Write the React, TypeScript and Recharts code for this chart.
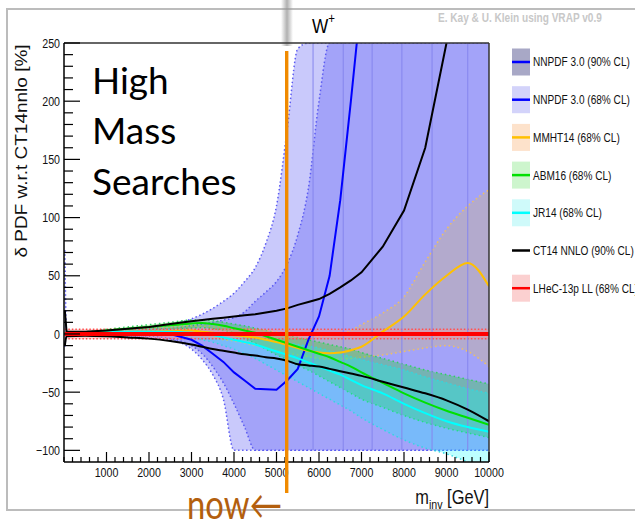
import React from "react";
import { Area, ComposedChart, Line, ReferenceLine, XAxis, YAxis } from "recharts";

// invariant mass grid [GeV]
const mass = [20, 60, 500, 1000, 1500, 2000, 2500, 3000, 3250, 3500, 3750, 4000, 4250, 4500, 4750, 5000, 5250, 5500, 5750, 6000, 6250, 6500, 6750, 7000, 7500, 8000, 8500, 9000, 9500, 10000];

// NNPDF 3.0
const nnpdf90Hi = [72, 2, 2, 3, 4, 5, 8, 13, 17, 22, 28, 35, 45, 57, 78, 110, 175, 245, 250, 250, 250, 250, 250, 250, 250, 250, 250, 250, 250, 250];
const nnpdf90Lo = [-11, -1, -1, -1, -2, -3, -5, -13, -22, -35, -56, -100, -100, -100, -100, -100, -100, -100, -100, -100, -100, -100, -100, -100, -100, -100, -100, -100, -100, -100];
const nnpdf68Hi = [1, 1, 1, 2, 3, 4, 5, 7, 8.5, 10, 12, 14, 19, 28, 36, 45, 60, 85, 125, 200, 250, 250, 250, 250, 250, 250, 250, 250, 250, 250];
const nnpdf68Lo = [-1, -1, -1, -1, -1.5, -2, -4, -10, -17, -28, -42, -60, -80, -100, -100, -100, -100, -100, -100, -100, -100, -100, -100, -100, -100, -100, -100, -100, -100, -100];
const nnpdfCentral = [0, 0, 0, 0, 0, 0.5, 0, -5, -10, -17, -24, -33, -40, -47, -47.5, -48, -40, -30, -5, 15, 50, 115, 200, 290, null, null, null, null, null, null];

// MMHT14
const mmhtCentral = [0, 0, 1, 1.5, 2, 2, 2.5, 3, 2, 1, 0, -1, -2, -3, -5, -7, -9.5, -12, -14.5, -16, -16.5, -16, -14, -11, 2, 15, 34, 50, 61, 41];
const mmhtHi = [1, 1, 2, 3, 4, 5, 6, 7, 7, 6.5, 6, 5, 4.5, 4, 3, 2, 1, 0, -1, -2, -1.5, 0, 3, 8, 18, 32, 62, 90, 110, 124];
const mmhtLo = [-1, -1, 0, 0, 0, -1, -1, -1, -2, -3, -5, -6, -8, -10, -12, -14, -16, -18, -19.5, -21, -21.5, -21.5, -21, -20, -18, -15, -12, -10, -15, -28];

// ABM16
const abmCentral = [0, 0, 1, 3, 4.5, 6, 7.5, 9, 9.5, 8.5, 7, 5, 3, 1, -2, -5, -8, -11, -14, -17, -20, -24, -28, -33, -42, -51, -59, -66, -72, -78];
const abmHi = [1, 1, 2, 4, 6, 8, 10, 12, 12, 11.5, 10, 8.5, 7, 5, 3, 1, -1, -3, -5, -7, -9, -11, -13, -16, -21, -26, -31, -35, -39, -43];
const abmLo = [-1, -1, 0, 1, 2, 3, 4, 5, 5.5, 4.5, 3, 1, -4, -8, -13, -18, -22, -27, -31, -36, -41, -46, -51, -56, -63, -70, -76, -81, -85, -89];

// JR14
const jrCentral = [0, 0, 1, 1.5, 2, 2, 2, 1, 0, -1, -3, -5, -7, -9, -12, -15, -18, -21, -24.5, -28, -31.5, -35, -39.5, -44, -51, -60, -68, -75, -80, -84];
const jrHi = [1, 1, 2, 3, 3.5, 4, 4, 3, 2.5, 1.5, 0.5, -1, -2, -3.5, -5, -6, -7.5, -9, -10.5, -12, -14.5, -17, -19.5, -22, -26.5, -31, -37, -42, -47, -51];
const jrLo = [-1, -1, 0, 0, 0, 0, -1, -3, -5, -7, -10, -13, -17, -21, -26, -31, -36, -41, -46, -51, -56, -61, -66, -72, -82, -91, -98, -103, -110, -118];

// CT14 NNLO 90% CL envelope
const ct14Hi = [20, 2, 2, 3, 4.5, 6, 8.5, 11, 12, 13, 14, 15, 16, 17, 18.5, 20, 22, 25, 27.5, 30, 34.5, 40, 46, 53, 75, 106, 160, 250, 390, 550];
const ct14Lo = [-10, -2, -1.5, -2, -3, -4, -6, -9, -11, -13, -14.5, -16, -17.5, -18.5, -20, -21, -23, -26, -27, -28, -30, -32, -34, -36, -41, -46, -51, -57, -65, -75];

// LHeC-13p LL
const lhecCentral = [0, 0, 0, 0, 0, 0, 0, 0, 0, 0, 0, 0, 0, 0, 0, 0, 0, 0, 0, 0, 0, 0, 0, 0, 0, 0, 0, 0, 0, 0];
const lhecHi = [4, 4, 4, 4, 4, 4, 4, 4, 4, 4, 4, 4, 4, 4, 4, 4, 4, 4, 4, 4, 4, 4, 4, 4, 4, 4, 4, 4, 4, 4];
const lhecLo = [-4, -4, -4, -4, -4, -4, -4, -4, -4, -4, -4, -4, -4, -4, -4, -4, -4, -4, -4, -4, -4, -4, -4, -4, -4, -4, -4, -4, -4, -4];

const binEdges = [5860, 6570, 7250, 7950, 8660, 9500];

const yMajorTicks = [-100, -50, 0, 50, 100, 150, 200, 250];
const xMajorTicks = [1000, 2000, 3000, 4000, 5000, 6000, 7000, 8000, 9000, 10000];

const legendItems = [
  { name: "NNPDF 3.0 (90% CL)", line: "#0000ff", box: "#a8a8c6" },
  { name: "NNPDF 3.0 (68% CL)", line: "#0000ff", box: "#d3d3fa" },
  { name: "MMHT14 (68% CL)", line: "#ffc000", box: "#fde2cb" },
  { name: "ABM16 (68% CL)", line: "#00e000", box: "#cdf5cd" },
  { name: "JR14 (68% CL)", line: "#00ffff", box: "#cffafa" },
  { name: "CT14 NNLO (90% CL)", line: "#000000", box: null },
  { name: "LHeC-13p LL (68% CL)", line: "#ff0000", box: "#fbd0d0" },
];

const rows = mass.map((m, i) => ({
  m,
  n90: [nnpdf90Lo[i], nnpdf90Hi[i]],
  n68: [nnpdf68Lo[i], nnpdf68Hi[i]],
  nnpdf: nnpdfCentral[i],
  mmhtBand: [mmhtLo[i], mmhtHi[i]],
  mmht: mmhtCentral[i],
  abmBand: [abmLo[i], abmHi[i]],
  abm: abmCentral[i],
  jrBand: [jrLo[i], jrHi[i]],
  jr: jrCentral[i],
  ctHi: ct14Hi[i],
  ctLo: ct14Lo[i],
  lhecBand: [lhecLo[i], lhecHi[i]],
  lhec: lhecCentral[i],
}));

const yTicks: number[] = [];
for (let v = -100; v <= 250; v += 10) yTicks.push(v);
const xTicks: number[] = [];
for (let v = 0; v <= 10000; v += 200) xTicks.push(v);

const ROOT_FONT = "'Liberation Sans', Arial, Helvetica, sans-serif";
const SQ = 0.82; // ROOT canvas is squeezed horizontally

const fmt = (v: number) => (v < 0 ? `\u2212${-v}` : `${v}`);

function YTick(props: any) {
  const { x, y, payload } = props;
  const major = yMajorTicks.includes(payload.value);
  return (
    <g>
      <line x1={x} y1={y} x2={x + (major ? 16 : 9)} y2={y} stroke="#000" strokeWidth={1.2} />
      {major && (
        <text transform={`translate(${x - 4},${y + 4.6}) scale(${SQ},1)`} textAnchor="end" fontSize={13} fontFamily={ROOT_FONT} fill="#111">
          {fmt(payload.value)}
        </text>
      )}
    </g>
  );
}

function XTick(props: any) {
  const { x, y, payload } = props;
  const major = xMajorTicks.includes(payload.value);
  return (
    <g>
      <line x1={x} y1={y} x2={x} y2={y - (major ? 10 : 5)} stroke="#000" strokeWidth={1.2} />
      {major && (
        <text transform={`translate(${x},${y + 14.5}) scale(${SQ},1)`} textAnchor="middle" fontSize={13} fontFamily={ROOT_FONT} fill="#111">
          {payload.value}
        </text>
      )}
    </g>
  );
}

const band = { isAnimationActive: false, type: "monotone" as const, activeDot: false as const };

export default function App() {
  return (
    <div style={{ position: "absolute", left: 0, top: 0, width: 635, height: 524, background: "#fff", overflow: "hidden" }}>
      <div style={{ position: "absolute", left: 6, top: 8, width: 640, height: 499, border: "2px solid #bcbcbc", borderRight: "none" }} />
      <div style={{ position: "absolute", left: 281, top: 0, width: 12, height: 46, background: "linear-gradient(to right, rgba(150,150,150,0), rgba(150,150,150,0.75) 50%, rgba(150,150,150,0))" }} />

      <div style={{ position: "absolute", left: 0, top: 0 }}>
        <ComposedChart width={635} height={524} data={rows} margin={{ top: 43, right: 146, bottom: 0, left: 0 }}>
          <XAxis dataKey="m" type="number" domain={[0, 10000]} ticks={xTicks} interval={0} tick={<XTick />} tickLine={false} tickSize={0} tickMargin={0} height={62} axisLine={{ stroke: "#000", strokeWidth: 1.5 }} allowDataOverflow />
          <YAxis type="number" domain={[-110, 250]} ticks={yTicks} interval={0} tick={<YTick />} tickLine={false} tickSize={0} tickMargin={0} width={64} axisLine={{ stroke: "#000", strokeWidth: 1.5 }} allowDataOverflow />

          <Area {...band} dataKey="n90" fill="#c9c9fb" fillOpacity={1} stroke="#5b5bf2" strokeWidth={1.5} strokeDasharray="1.5 2.5" />
          <Area {...band} dataKey="n68" fill="#a3a3f9" fillOpacity={1} stroke="#5b5bf2" strokeWidth={1.5} strokeDasharray="1.5 2.5" />
          {binEdges.map((b) => (
            <ReferenceLine key={b} segment={[{ x: b, y: -100 }, { x: b, y: 250 }]} stroke="#8585ee" strokeWidth={1} />
          ))}
          <Area {...band} dataKey="mmhtBand" fill="#c8b496" fillOpacity={0.45} stroke="#f0c060" strokeWidth={1.5} strokeDasharray="1.5 3" />
          <Area {...band} dataKey="abmBand" fill="#00e000" fillOpacity={0.28} stroke="#30d060" strokeWidth={1.5} strokeDasharray="1.5 3" />
          <Area {...band} dataKey="jrBand" fill="#00ffff" fillOpacity={0.26} stroke="#30d8e0" strokeWidth={1.5} strokeDasharray="1.5 3" />
          <Area {...band} dataKey="lhecBand" fill="#ff9090" fillOpacity={0.45} stroke="#ff5050" strokeWidth={1.5} strokeDasharray="1.5 2" />

          <Line isAnimationActive={false} type="linear" dataKey="nnpdf" stroke="#0000ff" strokeWidth={2} dot={false} activeDot={false} />
          <Line isAnimationActive={false} type="monotone" dataKey="mmht" stroke="#ffc000" strokeWidth={2} dot={false} activeDot={false} />
          <Line isAnimationActive={false} type="monotone" dataKey="abm" stroke="#00e000" strokeWidth={2} dot={false} activeDot={false} />
          <Line isAnimationActive={false} type="monotone" dataKey="jr" stroke="#00ffff" strokeWidth={2} dot={false} activeDot={false} />
          <Line isAnimationActive={false} type="linear" dataKey="ctHi" stroke="#000" strokeWidth={2} dot={false} activeDot={false} />
          <Line isAnimationActive={false} type="monotone" dataKey="ctLo" stroke="#000" strokeWidth={2} dot={false} activeDot={false} />
          <Line isAnimationActive={false} type="linear" dataKey="lhec" stroke="#ff0000" strokeWidth={4} dot={false} activeDot={false} />

          <ReferenceLine y={250} stroke="#333" strokeWidth={1.5} />
          <ReferenceLine x={10000} stroke="#333" strokeWidth={1.5} />
        </ComposedChart>
      </div>

      <svg width={635} height={524} style={{ position: "absolute", left: 0, top: 0, pointerEvents: "none" }}>
        <text transform={`translate(27,151) scale(${SQ},1) rotate(-90)`} textAnchor="middle" fontSize={19} fontFamily={ROOT_FONT} fill="#111">
          δ PDF w.r.t CT14nnlo [%]
        </text>
        <text transform={`translate(489,504) scale(${SQ},1)`} textAnchor="end" fontSize={20} fontFamily={ROOT_FONT} fill="#111">
          m<tspan fontSize={13} dy={5}>inv</tspan>
          <tspan dy={-5}> [GeV]</tspan>
        </text>
        <text transform={`translate(312,33) scale(${SQ},1)`} fontSize={21} fontFamily={ROOT_FONT} fill="#000">
          W<tspan fontSize={14} dy={-10}>+</tspan>
        </text>
        <text transform={`translate(438,22) scale(${SQ},1)`} fontSize={12.3} fontWeight="bold" fontFamily={ROOT_FONT} fill="#c8c8c8">
          E. Kay &amp; U. Klein using VRAP v0.9
        </text>

        {legendItems.map((it, i) => {
          const cy = 62 + i * 37.7;
          return (
            <g key={it.name}>
              {it.box && <rect x={512} y={cy - 13.5} width={18} height={27} fill={it.box} />}
              <line x1={512} x2={530} y1={cy} y2={cy} stroke={it.line} strokeWidth={2.5} />
              <text transform={`translate(533,${cy + 4.4}) scale(${SQ},1)`} fontSize={12.3} fontFamily={ROOT_FONT} fill="#111">
                {it.name}
              </text>
            </g>
          );
        })}

        <g fontFamily="Lato, 'Open Sans', sans-serif" fontSize={37} fill="#000">
          <text x={92} y={94}>High</text>
          <text x={92} y={144}>Mass</text>
          <text x={92} y={195}>Searches</text>
        </g>

        <rect x={285} y={51} width={3.4} height={442} fill="#f08a00" />
        <text transform={`translate(187,519) scale(${SQ},1)`} fontFamily="Lato, 'DejaVu Sans', sans-serif" fontSize={40} fill="#b35f0e">
          now←
        </text>
      </svg>
    </div>
  );
}
